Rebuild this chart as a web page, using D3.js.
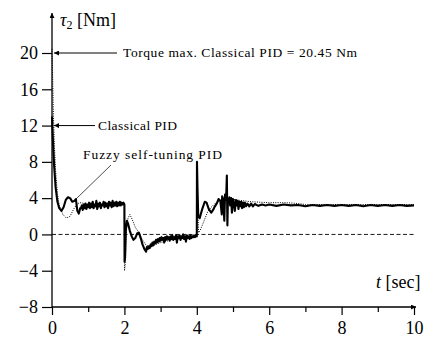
<!DOCTYPE html>
<html><head><meta charset="utf-8">
<script src="https://cdn.jsdelivr.net/npm/d3@7"></script>
<style>
body{margin:0;background:#fff;}
svg{display:block;}
text{font-family:"Liberation Serif","DejaVu Serif",serif;fill:#000;}
</style></head>
<body><svg id="c" width="426" height="337"></svg>
<script>
// ---- data ----
const xTicks = [0, 2, 4, 6, 8, 10];
const xMinorTicks = [1, 3, 5, 7, 9];
const yTicks = [-8, -4, 0, 4, 8, 12, 16, 20];

// Classical PID (dotted)
const classicalT = [0,0.02,0.04,0.07,0.1,0.15,0.2,0.3,0.4,0.5,0.6,0.7,0.8,1.0,1.3,1.6,2.0,
  2.002,2.02,2.05,2.1,2.15,2.2,2.3,2.4,2.5,2.6,2.7,2.8,3.0,3.3,3.6,4.0,
  4.003,4.02,4.05,4.1,4.2,4.3,4.4,4.5,4.7,4.9,5.1,5.5,6.0,6.5,6.8,7.0,7.5,8.0,9.0,10.0];
const classicalV = [20.45,17,13,9.5,7,4.5,3.2,2.2,1.8,2.0,2.8,3.4,3.5,3.3,3.3,3.4,3.4,
  -4.0,-3.5,0.5,1.8,2.2,1.8,0.8,0.2,-0.6,-1.2,-1.3,-1.2,-0.9,-0.6,-0.4,-0.3,
  8.0,4.0,0.2,0.5,1.5,2.5,3.0,3.4,3.8,3.9,3.8,3.6,3.5,3.5,3.4,3.3,3.3,3.3,3.3,3.3];

// Fuzzy self-tuning PID (solid)
const fuzzyT = [0,0.03,0.06,0.1,0.15,0.2,0.26,0.32,0.38,0.44,0.5,0.56,0.62,0.66,0.7,0.74,0.78,
  0.800,0.825,0.850,0.875,0.900,0.925,0.950,0.975,1.000,1.025,1.050,1.075,1.100,1.125,1.150,1.175,
  1.200,1.225,1.250,1.275,1.300,1.325,1.350,1.375,1.400,1.425,1.450,1.475,1.500,1.525,1.550,1.575,
  1.600,1.625,1.650,1.675,1.700,1.725,1.750,1.775,1.800,1.825,1.850,1.875,1.900,1.925,1.950,1.975,2.000,
  2.005,2.02,2.04,2.07,2.1,2.15,2.2,2.25,2.3,2.35,2.4,2.45,2.5,2.55,2.6,2.62,
  2.650,2.675,2.700,2.725,2.750,2.775,2.800,2.825,2.850,2.875,2.900,2.925,2.950,2.975,3.000,3.025,
  3.050,3.075,3.100,3.125,3.150,3.175,3.200,3.225,3.250,3.275,3.300,3.325,3.350,3.375,3.400,3.425,
  3.450,3.475,3.500,3.525,3.550,3.575,3.600,3.625,3.650,3.675,3.700,3.725,3.750,3.775,3.800,3.825,
  3.850,3.875,3.900,3.925,3.950,3.975,4.000,
  4.005,4.02,4.04,4.08,4.15,4.22,4.27,4.33,4.4,4.45,4.5,4.55,4.6,4.65,4.69,4.7,4.73,4.76,4.78,4.81,
  4.83,4.845,4.86,4.88,4.9,4.92,4.95,4.97,5.0,5.03,5.05,5.08,5.1,5.13,5.15,5.18,5.2,5.23,5.25,5.28,
  5.3,5.33,5.36,5.4,5.45,5.5,5.55,5.6,5.7,5.8,5.9,6.0,6.2,6.4,6.6,6.8,7.0,7.2,7.4,7.6,7.8,8.0,
  8.2,8.4,8.6,8.8,9.0,9.2,9.4,9.6,9.8,10.0];
const fuzzyV = [13,10,7.5,5.2,3.6,2.9,2.6,3.0,3.8,4.1,4.0,3.6,3.7,3.9,2.6,2.3,2.9,
  2.9,3.2,2.7,3.3,2.9,3.4,2.8,3.3,3.0,3.5,2.9,3.4,3.0,3.6,2.9,3.3,
  3.1,3.7,2.8,3.4,3.1,3.5,2.9,3.3,3.2,3.6,3.0,3.5,3.1,3.4,2.9,3.6,
  3.2,3.5,3.0,3.7,3.1,3.5,3.2,3.6,3.1,3.5,3.2,3.6,3.2,3.5,3.3,3.5,3.3,
  -3.0,-2.5,0.5,1.5,1.2,0.4,-0.2,-0.6,-0.4,0.1,0.2,-0.4,-1.1,-1.6,-1.9,-1.4,
  -1.6,-1.3,-1.5,-1.1,-1.3,-0.9,-1.2,-0.8,-1.0,-0.6,-0.9,-0.5,-0.8,-0.4,-0.7,-0.3,
  -0.6,-0.4,-0.9,-0.3,-0.6,-0.2,-0.5,-0.3,-0.7,-0.2,-0.5,-0.1,-0.6,-0.3,-0.5,-0.1,
  -0.9,-0.2,-0.4,-0.1,-0.6,-0.2,-0.4,0.0,-0.5,-0.2,-0.8,-0.1,-0.4,-0.2,-0.5,-0.1,
  -0.4,-0.2,-0.3,-0.1,-0.3,-0.1,-0.2,
  8.0,5.0,2.0,1.8,2.8,3.6,3.5,2.8,2.4,2.7,3.1,3.4,3.9,3.7,2.2,4.2,3.9,1.5,4.4,3.8,
  6.5,1.0,3.9,3.5,4.1,3.2,4.0,2.4,3.9,3.3,2.6,3.8,3.2,3.7,2.8,3.6,3.1,3.6,2.9,3.5,
  3.0,3.5,3.1,3.4,3.1,3.4,3.1,3.35,3.15,3.3,3.2,3.3,3.15,3.3,3.2,3.25,3.1,3.25,3.15,3.25,3.15,3.25,
  3.15,3.25,3.1,3.25,3.15,3.25,3.15,3.25,3.15,3.2];

// ---- layout ----
const svg = d3.select("#c");
const x = d3.scaleLinear().domain([0, 10]).range([52, 414]);
const y = d3.scaleLinear().domain([-8, 20]).range([307, 53]);

// zero dashed line
svg.append("line").attr("x1", x(0)).attr("x2", x(10)).attr("y1", y(0)).attr("y2", y(0))
  .attr("stroke", "#000").attr("stroke-width", 0.9).attr("stroke-dasharray", "4,2.5");

// axes
const xAxis = svg.append("g").attr("transform", `translate(0,${y(-8)})`)
  .call(d3.axisBottom(x).tickValues(xTicks).tickSize(8).tickPadding(6).tickFormat(d3.format("d")));
const xMinor = svg.append("g").attr("transform", `translate(0,${y(-8)})`)
  .call(d3.axisBottom(x).tickValues(xMinorTicks).tickSize(5).tickFormat(""));
const yAxis = svg.append("g").attr("transform", `translate(${x(0)},0)`)
  .call(d3.axisLeft(y).tickValues(yTicks).tickSize(10).tickPadding(4));
[xAxis, xMinor, yAxis].forEach(g => {
  g.select(".domain").remove();
  g.selectAll("line").attr("stroke", "#000").attr("stroke-width", 1.2);
  g.selectAll("text").attr("font-family", "Liberation Serif, serif").attr("font-size", 18).attr("fill", "#000");
});

// arrow markers
const defs = svg.append("defs");
defs.append("marker").attr("id", "ah").attr("viewBox", "0 0 10 10").attr("refX", 10).attr("refY", 5)
  .attr("markerWidth", 7).attr("markerHeight", 5).attr("markerUnits", "userSpaceOnUse").attr("orient", "auto")
  .append("path").attr("d", "M0,0L10,5L0,10Z").attr("fill", "#000");

// axis lines with arrows
svg.append("line").attr("x1", x(0)).attr("x2", 416).attr("y1", y(-8)).attr("y2", y(-8))
  .attr("stroke", "#000").attr("stroke-width", 1.3).attr("marker-end", "url(#ah)");
svg.append("line").attr("x1", x(0)).attr("x2", x(0)).attr("y1", y(-8)).attr("y2", 13)
  .attr("stroke", "#000").attr("stroke-width", 1.3).attr("marker-end", "url(#ah)");

// series
const line = d3.line().x(d => x(d[0])).y(d => y(d[1]));
const classical = classicalT.map((t, i) => [t, classicalV[i]]);
const fuzzy = fuzzyT.map((t, i) => [t, fuzzyV[i]]);
svg.append("path").datum(classical).attr("d", line).attr("fill", "none")
  .attr("stroke", "#000").attr("stroke-width", 1).attr("stroke-dasharray", "1,1.3");
svg.append("path").datum(fuzzy).attr("d", line).attr("fill", "none")
  .attr("stroke", "#000").attr("stroke-width", 2.1).attr("stroke-linejoin", "round");

// annotations
svg.append("line").attr("x1", 117).attr("x2", 54).attr("y1", y(20)).attr("y2", y(20))
  .attr("stroke", "#000").attr("stroke-width", 1).attr("marker-end", "url(#ah)");
svg.append("text").attr("x", 123).attr("y", y(20) + 4).attr("font-size", 13.5)
  .attr("textLength", 234).attr("lengthAdjust", "spacing").text("Torque max. Classical PID = 20.45 Nm");
svg.append("line").attr("x1", 95).attr("x2", 54).attr("y1", y(12)).attr("y2", y(12))
  .attr("stroke", "#000").attr("stroke-width", 1).attr("marker-end", "url(#ah)");
svg.append("text").attr("x", 98).attr("y", y(12) + 4).attr("font-size", 13.5)
  .attr("textLength", 79).attr("lengthAdjust", "spacing").text("Classical PID");
svg.append("line").attr("x1", 111).attr("y1", 165).attr("x2", 75).attr("y2", 200)
  .attr("stroke", "#000").attr("stroke-width", 0.7);
svg.append("text").attr("x", 83).attr("y", 159).attr("font-size", 13.5)
  .attr("textLength", 139).attr("lengthAdjust", "spacing").text("Fuzzy self-tuning PID");

// axis titles
const yt = svg.append("text").attr("x", 60).attr("y", 26).attr("font-size", 18);
yt.append("tspan").attr("font-style", "italic").text("τ");
yt.append("tspan").attr("font-size", 12).attr("dy", 3).text("2");
yt.append("tspan").attr("dy", -3).text(" [Nm]");
const xt = svg.append("text").attr("x", 376).attr("y", 288).attr("font-size", 18);
xt.append("tspan").attr("font-style", "italic").text("t");
xt.append("tspan").text(" [sec]");
</script></body></html>
